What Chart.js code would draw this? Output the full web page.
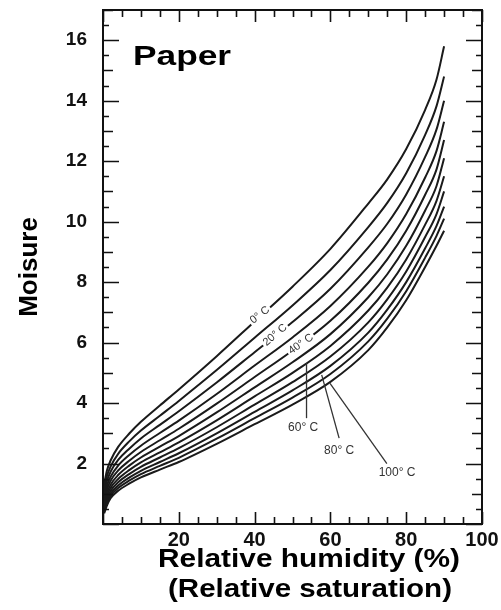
<!DOCTYPE html>
<html><head><meta charset="utf-8">
<script src="https://cdn.jsdelivr.net/npm/chart.js@4/dist/chart.umd.min.js"></script>
<style>html,body{margin:0;padding:0;background:#fff}#wrap{width:501px;height:610px;position:relative}</style>
</head><body><div id="wrap"><canvas id="c" width="501" height="610"></canvas></div>
<script>
// Relative humidity (%) sample points
const rh = [0.3, 1, 2, 4, 7, 10, 15, 20, 30, 40, 50, 60, 70, 75, 80, 85, 88, 90];
// Moisture content for each temperature (°C)
const m0   = [1.30, 1.75, 2.10, 2.55, 3.00, 3.38, 3.92, 4.45, 5.55, 6.70, 7.85, 9.10, 10.60, 11.40, 12.40, 13.70, 14.70, 15.8];
const m10  = [1.15, 1.57, 1.90, 2.32, 2.74, 3.09, 3.58, 4.07, 5.09, 6.16, 7.23, 8.40, 9.82, 10.62, 11.60, 12.87, 13.82, 14.8];
const m20  = [1.02, 1.41, 1.73, 2.12, 2.50, 2.83, 3.28, 3.73, 4.68, 5.68, 6.68, 7.78, 9.15, 9.93, 10.90, 12.14, 13.05, 14.0];
const m30  = [0.89, 1.26, 1.56, 1.93, 2.29, 2.59, 3.01, 3.42, 4.30, 5.24, 6.17, 7.21, 8.51, 9.29, 10.25, 11.46, 12.34, 13.3];
const m40  = [0.79, 1.13, 1.43, 1.77, 2.10, 2.38, 2.77, 3.15, 3.98, 4.86, 5.74, 6.72, 7.98, 8.75, 9.70, 10.89, 11.73, 12.7];
const m50  = [0.69, 1.01, 1.30, 1.62, 1.94, 2.20, 2.56, 2.91, 3.69, 4.52, 5.35, 6.28, 7.50, 8.26, 9.20, 10.37, 11.18, 12.1];
const m60  = [0.61, 0.91, 1.19, 1.49, 1.79, 2.04, 2.37, 2.70, 3.43, 4.22, 5.00, 5.89, 7.06, 7.82, 8.75, 9.90, 10.69, 11.5];
const m70  = [0.53, 0.82, 1.09, 1.38, 1.66, 1.89, 2.20, 2.51, 3.20, 3.95, 4.69, 5.54, 6.67, 7.43, 8.35, 9.49, 10.25, 11.0];
const m80  = [0.46, 0.74, 1.00, 1.27, 1.54, 1.76, 2.05, 2.34, 3.00, 3.71, 4.42, 5.23, 6.33, 7.09, 8.00, 9.12, 9.86, 10.5];
const m90  = [0.41, 0.67, 0.93, 1.19, 1.44, 1.65, 1.92, 2.19, 2.82, 3.50, 4.18, 4.96, 6.04, 6.79, 7.70, 8.81, 9.53, 10.1];
const m100 = [0.35, 0.60, 0.85, 1.10, 1.34, 1.54, 1.80, 2.05, 2.65, 3.30, 3.95, 4.70, 5.75, 6.50, 7.40, 8.50, 9.20, 9.7];
const temps = [0, 10, 20, 30, 40, 50, 60, 70, 80, 90, 100];
const series = [m0, m10, m20, m30, m40, m50, m60, m70, m80, m90, m100];
const xTickLabels = [20, 40, 60, 80, 100];
const yTickLabels = [2, 4, 6, 8, 10, 12, 14, 16];

// Curve labels (data coordinates)
const inlineLabels = [
  {text: '0° C',  x: 41.4, y: 6.91, angle: -38},
  {text: '20° C', x: 45.4, y: 6.25, angle: -40},
  {text: '40° C', x: 52.2, y: 5.95, angle: -35}
];
const leaderLabels = [
  {text: '60° C',  from: [53.7, 5.32], to: [53.7, 3.50], at: [52.8, 3.17]},
  {text: '80° C',  from: [57.7, 4.93], to: [62.3, 2.84], at: [62.3, 2.41]},
  {text: '100° C', from: [59.9, 4.65], to: [74.9, 2.00], at: [77.6, 1.69]}
];

const FONT = '"Liberation Sans", Arial, sans-serif';

const datasets = series.map((s, k) => ({
  label: temps[k] + '° C',
  data: rh.map((x, i) => ({x: x, y: s[i]})),
  borderColor: '#1a1a1a',
  borderWidth: 2,
  pointRadius: 0,
  fill: false,
  cubicInterpolationMode: 'monotone'
}));

function drawStretched(ctx, text, x, y, font, targetW, align) {
  ctx.save();
  ctx.font = font;
  const w = ctx.measureText(text).width;
  const s = targetW / w;
  let x0 = x;
  if (align === 'center') x0 = x - targetW / 2;
  ctx.translate(x0, y);
  ctx.scale(s, 1);
  ctx.textAlign = 'left';
  ctx.fillText(text, 0, 0);
  ctx.restore();
}

const decor = {
  id: 'decor',
  afterDatasetsDraw(chart) {
    const {ctx, chartArea: a, scales: {x, y}} = chart;
    ctx.save();
    ctx.strokeStyle = '#111';
    ctx.lineWidth = 2;
    ctx.strokeRect(a.left, a.top, a.right - a.left, a.bottom - a.top);
    ctx.lineWidth = 1.6;
    for (let v = 0; v <= 100; v += 5) {
      const px = Math.round(x.getPixelForValue(v)) + 0.5;
      const len = v % 20 === 0 ? 12 : 7;
      ctx.beginPath();
      ctx.moveTo(px, a.bottom); ctx.lineTo(px, a.bottom - len);
      ctx.moveTo(px, a.top); ctx.lineTo(px, a.top + len);
      ctx.stroke();
    }
    for (let v = 0; v <= 17; v += 0.5) {
      const py = Math.round(y.getPixelForValue(v)) + 0.5;
      const len = v % 2 === 0 ? 16 : (v % 1 === 0 ? 10 : 6);
      ctx.beginPath();
      ctx.moveTo(a.left, py); ctx.lineTo(a.left + len, py);
      ctx.moveTo(a.right, py); ctx.lineTo(a.right - len, py);
      ctx.stroke();
    }
    ctx.font = '11px ' + FONT;
    ctx.textAlign = 'center';
    ctx.textBaseline = 'middle';
    inlineLabels.forEach(l => {
      const px = x.getPixelForValue(l.x), py = y.getPixelForValue(l.y);
      ctx.save();
      ctx.translate(px, py);
      ctx.rotate(l.angle * Math.PI / 180);
      const w = ctx.measureText(l.text).width;
      ctx.fillStyle = '#fff';
      ctx.fillRect(-w / 2 - 2, -5, w + 4, 10);
      ctx.fillStyle = '#333';
      ctx.fillText(l.text, 0, 0);
      ctx.restore();
    });
    ctx.strokeStyle = '#333';
    ctx.lineWidth = 1.3;
    ctx.font = '12px ' + FONT;
    leaderLabels.forEach(l => {
      ctx.beginPath();
      ctx.moveTo(x.getPixelForValue(l.from[0]), y.getPixelForValue(l.from[1]));
      ctx.lineTo(x.getPixelForValue(l.to[0]), y.getPixelForValue(l.to[1]));
      ctx.stroke();
      ctx.fillStyle = '#333';
      ctx.fillText(l.text, x.getPixelForValue(l.at[0]), y.getPixelForValue(l.at[1]));
    });
    ctx.fillStyle = '#000';
    ctx.textBaseline = 'alphabetic';
    drawStretched(ctx, 'Paper', a.left + 30, a.top + 55, 'bold 28px ' + FONT, 98, 'left');
    ctx.restore();
  },
  afterDraw(chart) {
    const {ctx, chartArea: a} = chart;
    ctx.save();
    ctx.fillStyle = '#000';
    ctx.textBaseline = 'alphabetic';
    ctx.save();
    ctx.translate(37, (a.top + a.bottom) / 2);
    ctx.rotate(-Math.PI / 2);
    ctx.font = 'bold 26px ' + FONT;
    ctx.textAlign = 'center';
    ctx.fillText('Moisure', 0, 0);
    ctx.restore();
    drawStretched(ctx, 'Relative humidity (%)', 309, 567, 'bold 25px ' + FONT, 302, 'center');
    drawStretched(ctx, '(Relative saturation)', 310, 597, 'bold 25px ' + FONT, 284, 'center');
    ctx.restore();
  }
};

new Chart(document.getElementById('c'), {
  type: 'line',
  data: {datasets: datasets},
  options: {
    responsive: false,
    animation: false,
    devicePixelRatio: 1,
    layout: {padding: {left: 0, right: 19, top: 10, bottom: 0}},
    plugins: {legend: {display: false}, tooltip: {enabled: false}},
    scales: {
      x: {
        type: 'linear', min: 0, max: 100,
        grid: {display: false, drawTicks: false}, border: {display: false},
        afterFit: s => { s.height = 86; s.paddingLeft = 0; s.paddingRight = 0; },
        afterBuildTicks: s => { s.ticks = xTickLabels.map(v => ({value: v})); },
        ticks: {
          padding: 4, color: '#111', maxRotation: 0,
          font: {family: FONT, size: 20, weight: 'bold'},
          callback: v => v
        }
      },
      y: {
        type: 'linear', min: 0, max: 17,
        grid: {display: false, drawTicks: false}, border: {display: false},
        afterFit: s => { s.width = 103; s.paddingTop = 0; s.paddingBottom = 0; },
        afterBuildTicks: s => { s.ticks = yTickLabels.map(v => ({value: v})); },
        ticks: {
          padding: 16, color: '#111',
          font: {family: FONT, size: 19, weight: 'bold'},
          callback: v => v
        }
      }
    }
  },
  plugins: [decor]
});
</script>
</body></html>
